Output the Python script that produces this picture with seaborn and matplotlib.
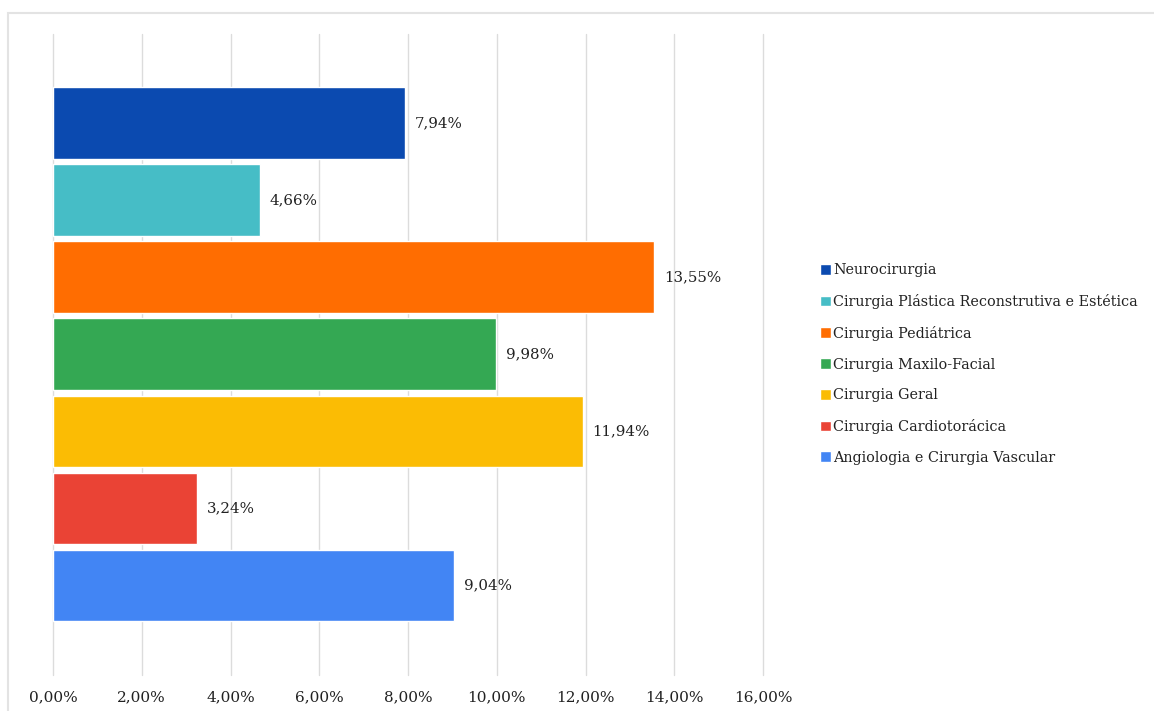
import matplotlib
matplotlib.use("Agg")
import matplotlib.pyplot as plt
from matplotlib.patches import Rectangle
import seaborn as sns
import pandas as pd

# Share of surgical specialties (%)
especialidades = [
    "Neurocirurgia",
    "Cirurgia Plástica Reconstrutiva e Estética",
    "Cirurgia Pediátrica",
    "Cirurgia Maxilo-Facial",
    "Cirurgia Geral",
    "Cirurgia Cardiotorácica",
    "Angiologia e Cirurgia Vascular",
]
percentagens = [7.94, 4.66, 13.55, 9.98, 11.94, 3.24, 9.04]
cores = ["#0B4AB0", "#46BDC6", "#FF6D01", "#34A853", "#FBBC04", "#EA4335", "#4285F4"]
ticks_x = [0, 2, 4, 6, 8, 10, 12, 14, 16]

df = pd.DataFrame({"Especialidade": especialidades, "Percentagem": percentagens})

sns.set_theme(style="white")
plt.rcParams["font.family"] = ["DejaVu Serif"]

W, H = 1154, 711
fig = plt.figure(figsize=(W / 100, H / 100), dpi=100)
ax = fig.add_axes([53 / W, 1 - 675 / H, (763 - 53) / W, (675 - 34) / H])

sns.barplot(
    data=df, y="Especialidade", x="Percentagem", hue="Especialidade",
    palette=dict(zip(especialidades, cores)), order=especialidades,
    hue_order=especialidades, width=0.93, orient="h", legend=True,
    saturation=1, ax=ax,
)

ax.set_xlim(0, 16)
ax.set_ylim(7.16, -1.155)
ax.set_xticks(ticks_x)
ax.set_xticklabels([f"{t:.2f}".replace(".", ",") + "%" for t in ticks_x], fontsize=11)
ax.set_yticks([])
ax.set_xlabel("")
ax.set_ylabel("")
ax.tick_params(axis="x", length=0, pad=11, colors="#222222")
ax.grid(axis="x", color="#dcdcdc", linewidth=1)
for gl in ax.xaxis.get_gridlines():
    gl.set_clip_on(False)
ax.set_axisbelow(True)
for s in ax.spines.values():
    s.set_visible(False)

# Value labels at the bar ends
for cont in ax.containers:
    vals = [b.get_width() for b in cont]
    ax.bar_label(cont, labels=[f"{v:.2f}".replace(".", ",") + "%" for v in vals],
                 padding=7, fontsize=10.8, color="#222222")

# Legend on the right
handles, labels = ax.get_legend_handles_labels()
if ax.legend_:
    ax.legend_.remove()
fig.legend(handles, labels, loc="center left",
           bbox_to_anchor=(820 / W, 1 - 364 / H), frameon=False,
           fontsize=10.4, handlelength=0.78, handleheight=0.78,
           handletextpad=0.15, labelspacing=1.16, borderpad=0, borderaxespad=0,
           labelcolor="#222222")

# Light frame around the chart area
fig.add_artist(Rectangle((8 / W, -0.05), 1.2, 1 - 13 / H + 0.05,
                         transform=fig.transFigure, fill=False,
                         edgecolor="#e3e3e3", linewidth=1.5))

fig.savefig("out.png", dpi=100, facecolor="white")
